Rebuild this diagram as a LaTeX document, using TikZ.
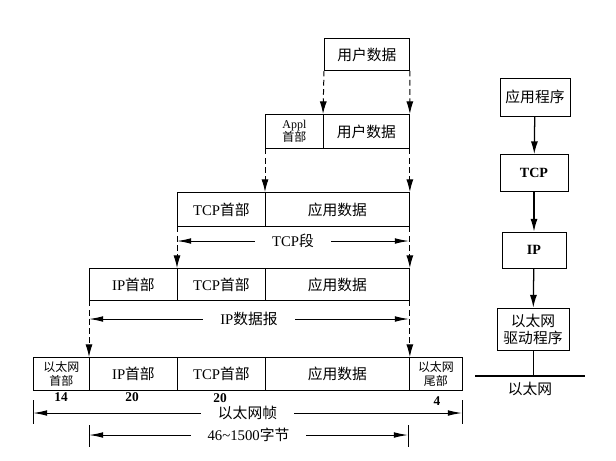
\documentclass[tikz,border=0pt]{standalone}
\usepackage{fontspec}
\setmainfont{Liberation Serif}
\newfontfamily\cjk{Noto Sans CJK SC}
\usetikzlibrary{arrows.meta}

\newcommand{\zh}[1]{{\cjk #1}}
\def\px{0.025cm}

\begin{document}
\begin{tikzpicture}[x=0.025cm, y=-0.025cm,
  cell/.style={draw, line width=0.6pt, anchor=north west, inner sep=0pt,
    font=\fontsize{10.5}{12}\selectfont},
  smallcell/.style={cell, align=center, font=\fontsize{8.5}{10}\selectfont},
  flow/.style={line width=0.7pt, dash pattern=on 4pt off 2.5pt,
    -{Latex[length=9pt,width=5pt]}},
  dim/.style={line width=0.7pt,
    {Latex[length=10pt,width=4pt]}-{Latex[length=10pt,width=4pt]}},
  dimlabel/.style={fill=white, inner xsep=12pt, inner ysep=0pt,
    font=\fontsize{10.5}{12}\selectfont},
  tick/.style={line width=0.6pt},
  layer/.style={draw, line width=0.6pt, inner sep=0pt, align=center,
    font=\fontsize{10.5}{12}\selectfont},
  down/.style={line width=0.9pt, -{Latex[length=9pt,width=5pt]}},
  bytes/.style={font=\bfseries\fontsize{9.5}{10}\selectfont}]

  \useasboundingbox (0,0) rectangle (616,460);

  % === Encapsulation, top to bottom ===
  % user data
  \node[cell, minimum width=85*\px, minimum height=32*\px] (ud1) at (324,38) {\zh{用户数据}};

  % application header + user data
  \node[smallcell, minimum width=58*\px, minimum height=34*\px] (appl) at (265,114)
    {Appl\\[-1pt]\zh{首部}};
  \node[cell, minimum width=86*\px, minimum height=34*\px] (ud2) at (323,114) {\zh{用户数据}};

  % TCP segment
  \node[cell, minimum width=88*\px, minimum height=34*\px] (tcph3) at (177,192) {TCP\zh{首部}};
  \node[cell, minimum width=144*\px, minimum height=34*\px] (ad3) at (265,192) {\zh{应用数据}};

  % IP datagram
  \node[cell, minimum width=88*\px, minimum height=32*\px] (iph4) at (89,268) {IP\zh{首部}};
  \node[cell, minimum width=88*\px, minimum height=32*\px] (tcph4) at (177,268) {TCP\zh{首部}};
  \node[cell, minimum width=144*\px, minimum height=32*\px] (ad4) at (265,268) {\zh{应用数据}};

  % Ethernet frame
  \node[smallcell, minimum width=56*\px, minimum height=33*\px] (ethh) at (33,357)
    {\zh{以太网}\\\zh{首部}};
  \node[cell, minimum width=88*\px, minimum height=33*\px] (iph5) at (89,357) {IP\zh{首部}};
  \node[cell, minimum width=88*\px, minimum height=33*\px] (tcph5) at (177,357) {TCP\zh{首部}};
  \node[cell, minimum width=144*\px, minimum height=33*\px] (ad5) at (265,357) {\zh{应用数据}};
  \node[smallcell, minimum width=53*\px, minimum height=33*\px] (etht) at (409,357)
    {\zh{以太网}\\\zh{尾部}};

  % dashed arrows between rows
  \draw[flow] (ud1.south west) -- (ud2.north west);
  \draw[flow] (ud1.south east) -- (ud2.north east);
  \draw[flow] (appl.south west) -- (ad3.north west);
  \draw[flow] (ud2.south east) -- (ad3.north east);
  \draw[flow] (tcph3.south west) -- (tcph4.north west);
  \draw[flow] (ad3.south east) -- (ad4.north east);
  \draw[flow] (iph4.south west) -- (iph5.north west);
  \draw[flow] (ad4.south east) -- (ad5.north east);

  % byte counts
  \node[bytes] (n14) at (61,397) {14};
  \node[bytes] (n20a) at (132,397) {20};
  \node[bytes] (n20b) at (220,398) {20};
  \node[bytes] (n4) at (437,401) {4};

  % === Dimension lines ===
  \coordinate (segL) at (177,241);
  \coordinate (segR) at (409,241);
  \draw[dim] (segL) -- node[dimlabel] (seg) {TCP\zh{段}} (segR);

  \coordinate (dgL) at (89,319);
  \coordinate (dgR) at (409,319);
  \draw[dim] (dgL) -- node[dimlabel] (dg) {IP\zh{数据报}} (dgR);

  \coordinate (frL) at (33,413);
  \coordinate (frR) at (462,413);
  \draw[tick] (33,400) -- (33,424);
  \draw[tick] (462,400) -- (462,424);
  \draw[dim] (frL) -- node[dimlabel] (fr) {\zh{以太网帧}} (frR);

  \coordinate (plL) at (89,435);
  \coordinate (plR) at (408,435);
  \draw[tick] (89,425) -- (89,447);
  \draw[tick] (408,425) -- (408,447);
  \draw[dim] (plL) -- node[dimlabel] (pl) {46\textasciitilde1500\zh{字节}} (plR);

  % === Protocol stack (right) ===
  \node[layer, minimum width=70*\px, minimum height=38*\px] (app) at (535,97) {\zh{应用程序}};
  \node[layer, minimum width=68*\px, minimum height=37*\px, font=\bfseries\fontsize{10}{12}\selectfont] (tcp) at (534,173) {TCP};
  \node[layer, minimum width=64*\px, minimum height=36*\px, font=\bfseries\fontsize{10}{12}\selectfont] (ip) at (534,250) {IP};
  \node[layer, minimum width=72*\px, minimum height=42*\px] (drv) at (533,329)
    {\zh{以太网}\\\zh{驱动程序}};

  \draw[down] (app) -- (tcp);
  \draw[down] (tcp) -- (ip);
  \draw[down] (ip) -- (drv);

  % Ethernet wire
  \coordinate (wireL) at (475,376);
  \coordinate (wireR) at (585,376);
  \draw[line width=2pt] (wireL) -- (wireR);
  \draw[line width=0.7pt] (drv.south) -- (drv.south |- wireL);
  \node[font=\fontsize{10.5}{12}\selectfont] (wire) at (530,389) {\zh{以太网}};

\end{tikzpicture}
\end{document}
